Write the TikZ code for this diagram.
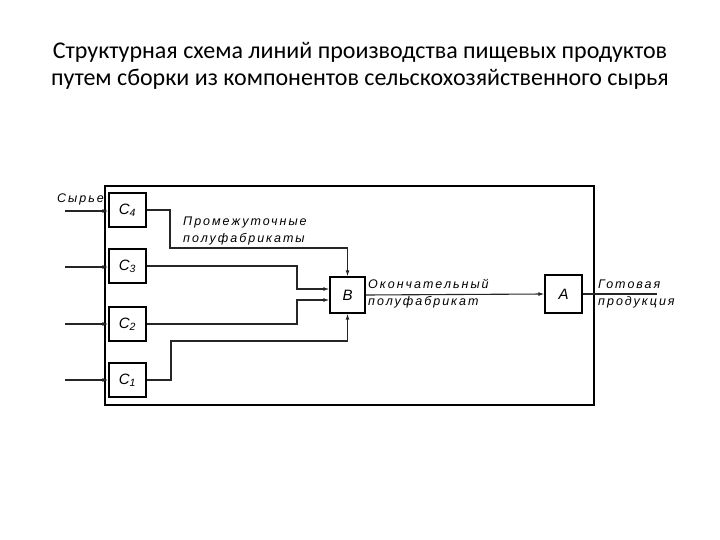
\documentclass[tikz,border=0pt]{standalone}
\usepackage{fontspec}
\setmainfont{Carlito}
\newfontfamily\lab[LetterSpace=16]{Liberation Sans}
\usetikzlibrary{arrows.meta, positioning}

\begin{document}
\begin{tikzpicture}[
    x=1pt, y=-1pt,
    % Styles for the scheme
    unit/.style={draw, line width=1.4pt, minimum width=37pt, minimum height=34pt, inner sep=0pt, font=\lab\itshape\fontsize{15}{15}\selectfont},
    edge/.style={line width=1.1pt, draw=black!85},
    conn/.style={edge, -{Latex[length=6pt, width=4pt]}},
    caption/.style={align=left, inner sep=0pt, font=\lab\itshape\fontsize{12.5}{17}\selectfont}
]
    \useasboundingbox (0,0) rectangle (720,540);

    % --- Title ---
    \node[align=center, font=\fontsize{24}{27}\selectfont] (title) at (360,66)
        {Структурная схема линий производства пищевых продуктов\\
         путем сборки из компонентов сельскохозяйственного сырья};

    % --- Line frame ---
    \draw[line width=1.7pt] (105,186) rectangle (594,405);

    % --- Units ---
    \node[unit] (c4) at (127.5,210) {C\textsubscript{4}};
    \node[unit] (c3) at (127.5,266) {C\textsubscript{3}};
    \node[unit] (c2) at (127.5,324) {C\textsubscript{2}};
    \node[unit] (c1) at (127.5,380) {C\textsubscript{1}};
    \node[unit, minimum width=35pt, minimum height=36pt] (b) at (347.5,295) {B};
    \node[unit, minimum height=38pt] (a) at (563.5,294) {A};

    % --- Free ends ---
    \coordinate (in4) at (65,211);
    \coordinate (in3) at (65,267);
    \coordinate (in2) at (65,324);
    \coordinate (in1) at (65,380);
    \coordinate (out) at (657,294);

    % --- Raw input ---
    \draw[conn] (in4) -- (c4.west |- in4);
    \draw[conn] (in3) -- (c3.west |- in3);
    \draw[conn] (in2) -- (c2.west);
    \draw[conn] (in1) -- (c1.west);

    % --- Intermediate products to B ---
    \draw[conn] (c4.east) -| (170,248) -| (b.north);
    \draw[conn] (c3.east) -| (297,289) -- ([yshift=6pt]b.west);
    \draw[conn] (c2.east) -| (297,300) -- ([yshift=-5pt]b.west);
    \draw[conn] (c1.east) -| (171,341) -| (b.south);

    % --- Final stage ---
    \draw[conn] (b.east) -- (a.west);
    \draw[edge] (a.east) -- (out);

    % --- Labels ---
    \node[caption, anchor=south east] (raw) at (104,205) {Сырье};
    \node[caption, anchor=west] (mid) at (183,231) {Промежуточные\\полуфабрикаты};
    \node[caption, anchor=west] (fin) at (368,294) {Окончательный\\полуфабрикат};
    \node[caption, anchor=west] (prod) at (598,294) {Готовая\\продукция};

\end{tikzpicture}
\end{document}
